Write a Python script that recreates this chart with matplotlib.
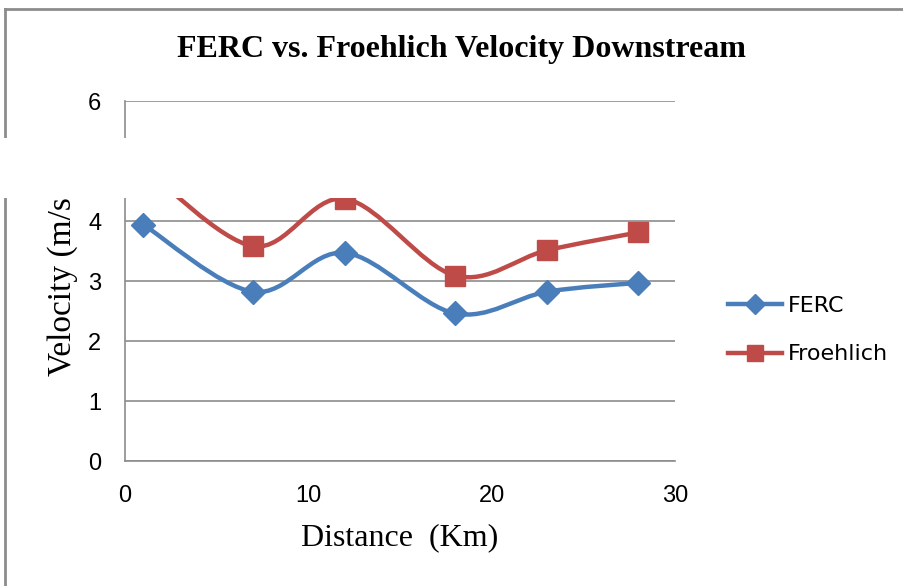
import matplotlib
matplotlib.use("Agg")
import matplotlib.pyplot as plt
import numpy as np
from matplotlib.path import Path
from matplotlib.patches import PathPatch, Rectangle
from matplotlib.lines import Line2D

distance_km = [1, 7, 12, 18, 23, 28]
ferc = [3.94, 2.82, 3.47, 2.46, 2.82, 2.97]
froehlich = [4.9, 3.58, 4.37, 3.09, 3.51, 3.81]

blue = "#4A7EBB"
red = "#BE4B48"
grid_gray = "#8C8C8C"


def smooth_path(xs, ys):
    # excel style smoothed line: cubic bezier through the points
    pts = np.column_stack([xs, ys]).astype(float)
    n = len(pts)
    verts = [pts[0]]
    codes = [Path.MOVETO]
    for i in range(n - 1):
        p0 = pts[i - 1] if i > 0 else pts[i]
        p1 = pts[i]
        p2 = pts[i + 1]
        p3 = pts[i + 2] if i + 2 < n else pts[i + 1]
        c1 = p1 + (p2 - p0) / 6.0
        c2 = p2 - (p3 - p1) / 6.0
        verts += [c1, c2, p2]
        codes += [Path.CURVE4] * 3
    return Path(verts, codes)


fig = plt.figure(figsize=(9.04, 5.86), dpi=100)
ax = fig.add_axes([125 / 904, 1 - 461 / 586, 550 / 904, 360 / 586])

for ys, col, mk, ms, lab in [(ferc, blue, "D", 12, "FERC"),
                             (froehlich, red, "s", 14, "Froehlich")]:
    ax.add_patch(PathPatch(smooth_path(distance_km, ys), fill=False,
                           edgecolor=col, lw=3.2, zorder=3, capstyle="round"))
    ax.plot(distance_km, ys, linestyle="none", marker=mk, markersize=ms,
            color=col, zorder=4)
    ax.plot([], [], color=col, lw=3.2, marker=mk, markersize=ms - 2, label=lab)

ax.set_xlim(0, 30)
ax.set_ylim(0, 6)
ax.set_xticks([0, 10, 20, 30])
ax.set_yticks([0, 1, 2, 3, 4, 5, 6])
ax.grid(axis="y", color=grid_gray, lw=1.2)
ax.set_axisbelow(True)
for s in ["right", "top"]:
    ax.spines[s].set_visible(False)
for s in ["left", "bottom"]:
    ax.spines[s].set_color(grid_gray)
    ax.spines[s].set_linewidth(1.2)
ax.tick_params(length=0)
ax.tick_params(axis="y", pad=17)
ax.tick_params(axis="x", pad=17)
for t in ax.get_xticklabels() + ax.get_yticklabels():
    t.set_fontfamily("Liberation Sans")
    t.set_fontsize(17)

ax.set_xlabel("Distance  (Km)", fontfamily="Liberation Serif", fontsize=23, va="top")
ax.xaxis.set_label_coords(0.5, (461 - 523) / 360)
ax.set_ylabel("Velocity (m/s)", fontfamily="Liberation Serif", fontsize=24)
ax.yaxis.set_label_coords((78 - 125) / 550, 0.5)
fig.suptitle("FERC vs. Froehlich Velocity Downstream", fontfamily="Liberation Serif",
             fontweight="bold", fontsize=23, x=461 / 904, y=1 - 49 / 586, va="center")

leg = ax.legend(loc="center left", bbox_to_anchor=((728 - 125) / 550, (461 - 330) / 360),
                frameon=False, prop={"family": "DejaVu Sans", "size": 16},
                handlelength=2.45, handletextpad=0.25, labelspacing=1.3,
                borderpad=0, borderaxespad=0)

# chart frame
fig.add_artist(Line2D([5 / 904, 1], [1 - 9 / 586, 1 - 9 / 586], color=grid_gray, lw=2,
                      transform=fig.transFigure))
fig.add_artist(Line2D([5 / 904, 5 / 904], [0, 1 - 9 / 586], color=grid_gray, lw=2,
                      transform=fig.transFigure))
# blank strip across the picture
fig.add_artist(Rectangle((0, 1 - 198 / 586), 1, 60 / 586, transform=fig.transFigure,
                         facecolor="white", edgecolor="none", zorder=10))

fig.savefig("out.png", dpi=100)
